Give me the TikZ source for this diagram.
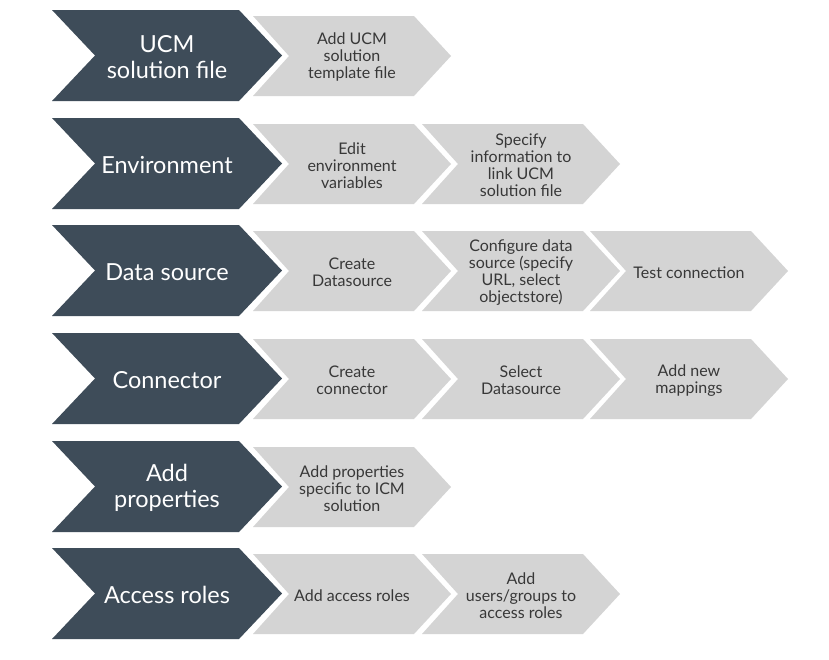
\documentclass[tikz,border=0pt]{standalone}
\usepackage{fontspec}
\setmainfont{Lato}
\definecolor{darkc}{HTML}{3E4C59}
\definecolor{grayc}{HTML}{D4D4D4}
\definecolor{txtc}{HTML}{383838}
\tikzset{
  darklabel/.style={text=white, font=\fontsize{23.5}{26}\selectfont, align=center, inner sep=0pt},
  graylabel/.style={text=txtc, font=\fontsize{16}{17}\selectfont, align=center, inner sep=0pt},
}
% dark chevron: #1 name, #2 top y, #3 text
\newcommand\darkchev[3]{%
  \fill[darkc] (52,#2) -- (239,#2) -- (282,#2+45.5) -- (239,#2+91) -- (52,#2+91) -- (95,#2+45.5) -- cycle;
  \node[darklabel] (#1) at (167,#2+47) {#3};
}
% gray chevron: #1 name, #2 left x, #3 top y, #4 text
\newcommand\graychev[4]{%
  \fill[grayc] (#2,#3) -- (#2+161,#3) -- (#2+198,#3+40) -- (#2+161,#3+80) -- (#2,#3+80) -- (#2+36,#3+40) -- cycle;
  \node[graylabel] (#1) at (#2+99,#3+41.2) {#4};
}
\begin{document}
\begin{tikzpicture}[x=1pt,y=-1pt]
\useasboundingbox (0,0) rectangle (829,659);
\fill[white] (0,0) rectangle (829,659);
% Row 1
\darkchev{d1}{10}{UCM\\solution file}
\graychev{g11}{253}{16}{Add UCM\\solution\\template file}
% Row 2
\darkchev{d2}{118}{Environment}
\graychev{g21}{253}{124}{Edit\\environment\\variables}
\graychev{g22}{422}{124}{Specify\\information to\\link UCM\\solution file}
% Row 3
\darkchev{d3}{225}{Data source}
\graychev{g31}{253}{231}{Create\\Datasource}
\graychev{g32}{422}{231}{Configure data\\source (specify\\URL, select\\objectstore)}
\graychev{g33}{590}{231}{Test connection}
% Row 4
\darkchev{d4}{333}{Connector}
\graychev{g41}{253}{339}{Create\\connector}
\graychev{g42}{422}{339}{Select\\Datasource}
\graychev{g43}{590}{339}{Add new\\mappings}
% Row 5
\darkchev{d5}{441}{Add\\properties}
\graychev{g51}{253}{447}{Add properties\\specific to ICM\\solution}
% Row 6
\darkchev{d6}{548}{Access roles}
\graychev{g61}{253}{554}{Add access roles}
\graychev{g62}{422}{554}{Add\\users/groups to\\access roles}
\end{tikzpicture}
\end{document}
